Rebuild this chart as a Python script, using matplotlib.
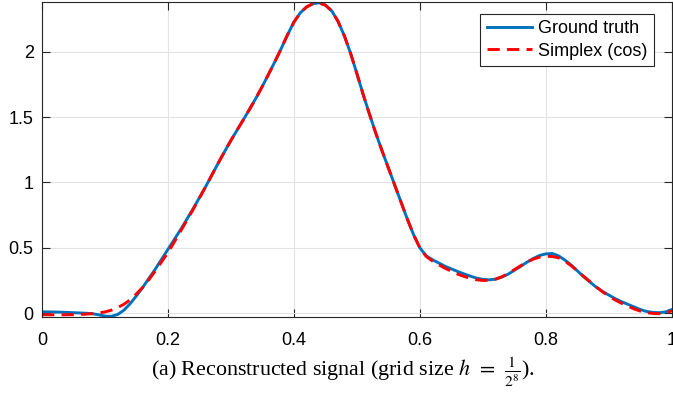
import matplotlib
matplotlib.use('Agg')
from matplotlib import pyplot as plt
import matplotlib as mpl

mpl.rcParams['font.family'] = 'Liberation Sans'
mpl.rcParams['mathtext.fontset'] = 'stix'
mpl.rcParams['xtick.direction'] = 'in'
mpl.rcParams['ytick.direction'] = 'in'

# data
x = [0.00, 0.01, 0.02, 0.03, 0.04, 0.05, 0.06, 0.07, 0.08, 0.09,
     0.10, 0.11, 0.12, 0.13, 0.14, 0.15, 0.16, 0.17, 0.18, 0.19,
     0.20, 0.21, 0.22, 0.23, 0.24, 0.25, 0.26, 0.27, 0.28, 0.29,
     0.30, 0.31, 0.32, 0.33, 0.34, 0.35, 0.36, 0.37, 0.38, 0.39,
     0.40, 0.41, 0.42, 0.43, 0.44, 0.45, 0.46, 0.47, 0.48, 0.49,
     0.50, 0.51, 0.52, 0.53, 0.54, 0.55, 0.56, 0.57, 0.58, 0.59,
     0.60, 0.61, 0.62, 0.63, 0.64, 0.65, 0.66, 0.67, 0.68, 0.69,
     0.70, 0.71, 0.72, 0.73, 0.74, 0.75, 0.76, 0.77, 0.78, 0.79,
     0.80, 0.81, 0.82, 0.83, 0.84, 0.85, 0.86, 0.87, 0.88, 0.89,
     0.90, 0.91, 0.92, 0.93, 0.94, 0.95, 0.96, 0.97, 0.98, 0.99, 1.00]

ground_truth = [0.012, 0.012, 0.011, 0.010, 0.008, 0.006, 0.004, 0.002, -0.002, -0.010,
                -0.020, -0.022, -0.008, 0.025, 0.075, 0.135, 0.200, 0.270, 0.340, 0.415,
                0.490, 0.565, 0.640, 0.720, 0.800, 0.885, 0.970, 1.060, 1.150, 1.237,
                1.322, 1.402, 1.482, 1.563, 1.647, 1.736, 1.830, 1.925, 2.025, 2.130,
                2.225, 2.295, 2.340, 2.365, 2.372, 2.355, 2.310, 2.230, 2.120, 1.985,
                1.830, 1.670, 1.520, 1.375, 1.240, 1.110, 0.980, 0.850, 0.720, 0.600,
                0.500, 0.440, 0.410, 0.385, 0.360, 0.340, 0.320, 0.302, 0.285, 0.270,
                0.260, 0.257, 0.262, 0.278, 0.300, 0.330, 0.360, 0.392, 0.420, 0.443,
                0.455, 0.458, 0.440, 0.408, 0.370, 0.325, 0.280, 0.240, 0.200, 0.168,
                0.140, 0.113, 0.090, 0.070, 0.050, 0.030, 0.015, 0.008, 0.006, 0.012, 0.030]

simplex_cos = [-0.010, -0.010, -0.010, -0.010, -0.010, -0.009, -0.008, -0.005, -0.001, 0.004,
               0.012, 0.025, 0.045, 0.070, 0.105, 0.150, 0.200, 0.260, 0.325, 0.395,
               0.465, 0.545, 0.628, 0.710, 0.795, 0.882, 0.970, 1.060, 1.150, 1.237,
               1.322, 1.402, 1.482, 1.563, 1.647, 1.736, 1.830, 1.925, 2.025, 2.130,
               2.225, 2.295, 2.340, 2.365, 2.370, 2.353, 2.310, 2.230, 2.120, 1.985,
               1.830, 1.670, 1.520, 1.375, 1.240, 1.110, 0.980, 0.850, 0.720, 0.600,
               0.500, 0.435, 0.400, 0.372, 0.345, 0.322, 0.300, 0.283, 0.268, 0.257,
               0.252, 0.253, 0.262, 0.280, 0.305, 0.335, 0.365, 0.393, 0.415, 0.430,
               0.437, 0.435, 0.425, 0.400, 0.365, 0.325, 0.283, 0.243, 0.203, 0.165,
               0.132, 0.103, 0.078, 0.055, 0.035, 0.018, 0.006, 0.000, -0.002, 0.005, 0.020]

fig = plt.figure(figsize=(6.73, 3.94), dpi=100)
ax = fig.add_axes([0.0624, 0.1954, 0.936, 0.7995])

ax.plot(x, ground_truth, '-', c='#0072BD', lw=2.1, label='Ground truth')
ax.plot(x, simplex_cos, '--', c='r', lw=2.1, dashes=(4.2, 2.5), label='Simplex (cos)')

ax.set_xlim(0, 1)
ax.set_ylim(-0.027, 2.378)
ax.set_xticks([0, 0.2, 0.4, 0.6, 0.8, 1])
ax.set_xticklabels(['0', '0.2', '0.4', '0.6', '0.8', '1'])
ax.set_yticks([0, 0.5, 1, 1.5, 2])
ax.set_yticklabels(['0', '0.5', '1', '1.5', '2'])
ax.tick_params(labelsize=13, top=True, right=True, length=6, color='#262626', width=0.8)
ax.tick_params('x', pad=11)
ax.tick_params('y', pad=6)
ax.grid(color='#e3e3e3', lw=0.8)
ax.set_axisbelow(True)
for s in ax.spines.values():
    s.set_color('#262626')
    s.set_linewidth(0.8)

leg = ax.legend(loc='upper right', fontsize=13, fancybox=False, edgecolor='#262626',
                framealpha=1, handlelength=2.5, bbox_to_anchor=(0.971, 0.962),
                borderaxespad=0, borderpad=0.35, labelspacing=0.3, handletextpad=0.35)
leg.get_frame().set_linewidth(0.8)

fig.text(0.510, 0.0457, r'(a) Reconstructed signal (grid size $h\;\,=\;\,\frac{1}{2^8}$).',
         ha='center', va='baseline', fontsize=15.8, family='Liberation Serif')

plt.savefig('out.png', dpi=100)
